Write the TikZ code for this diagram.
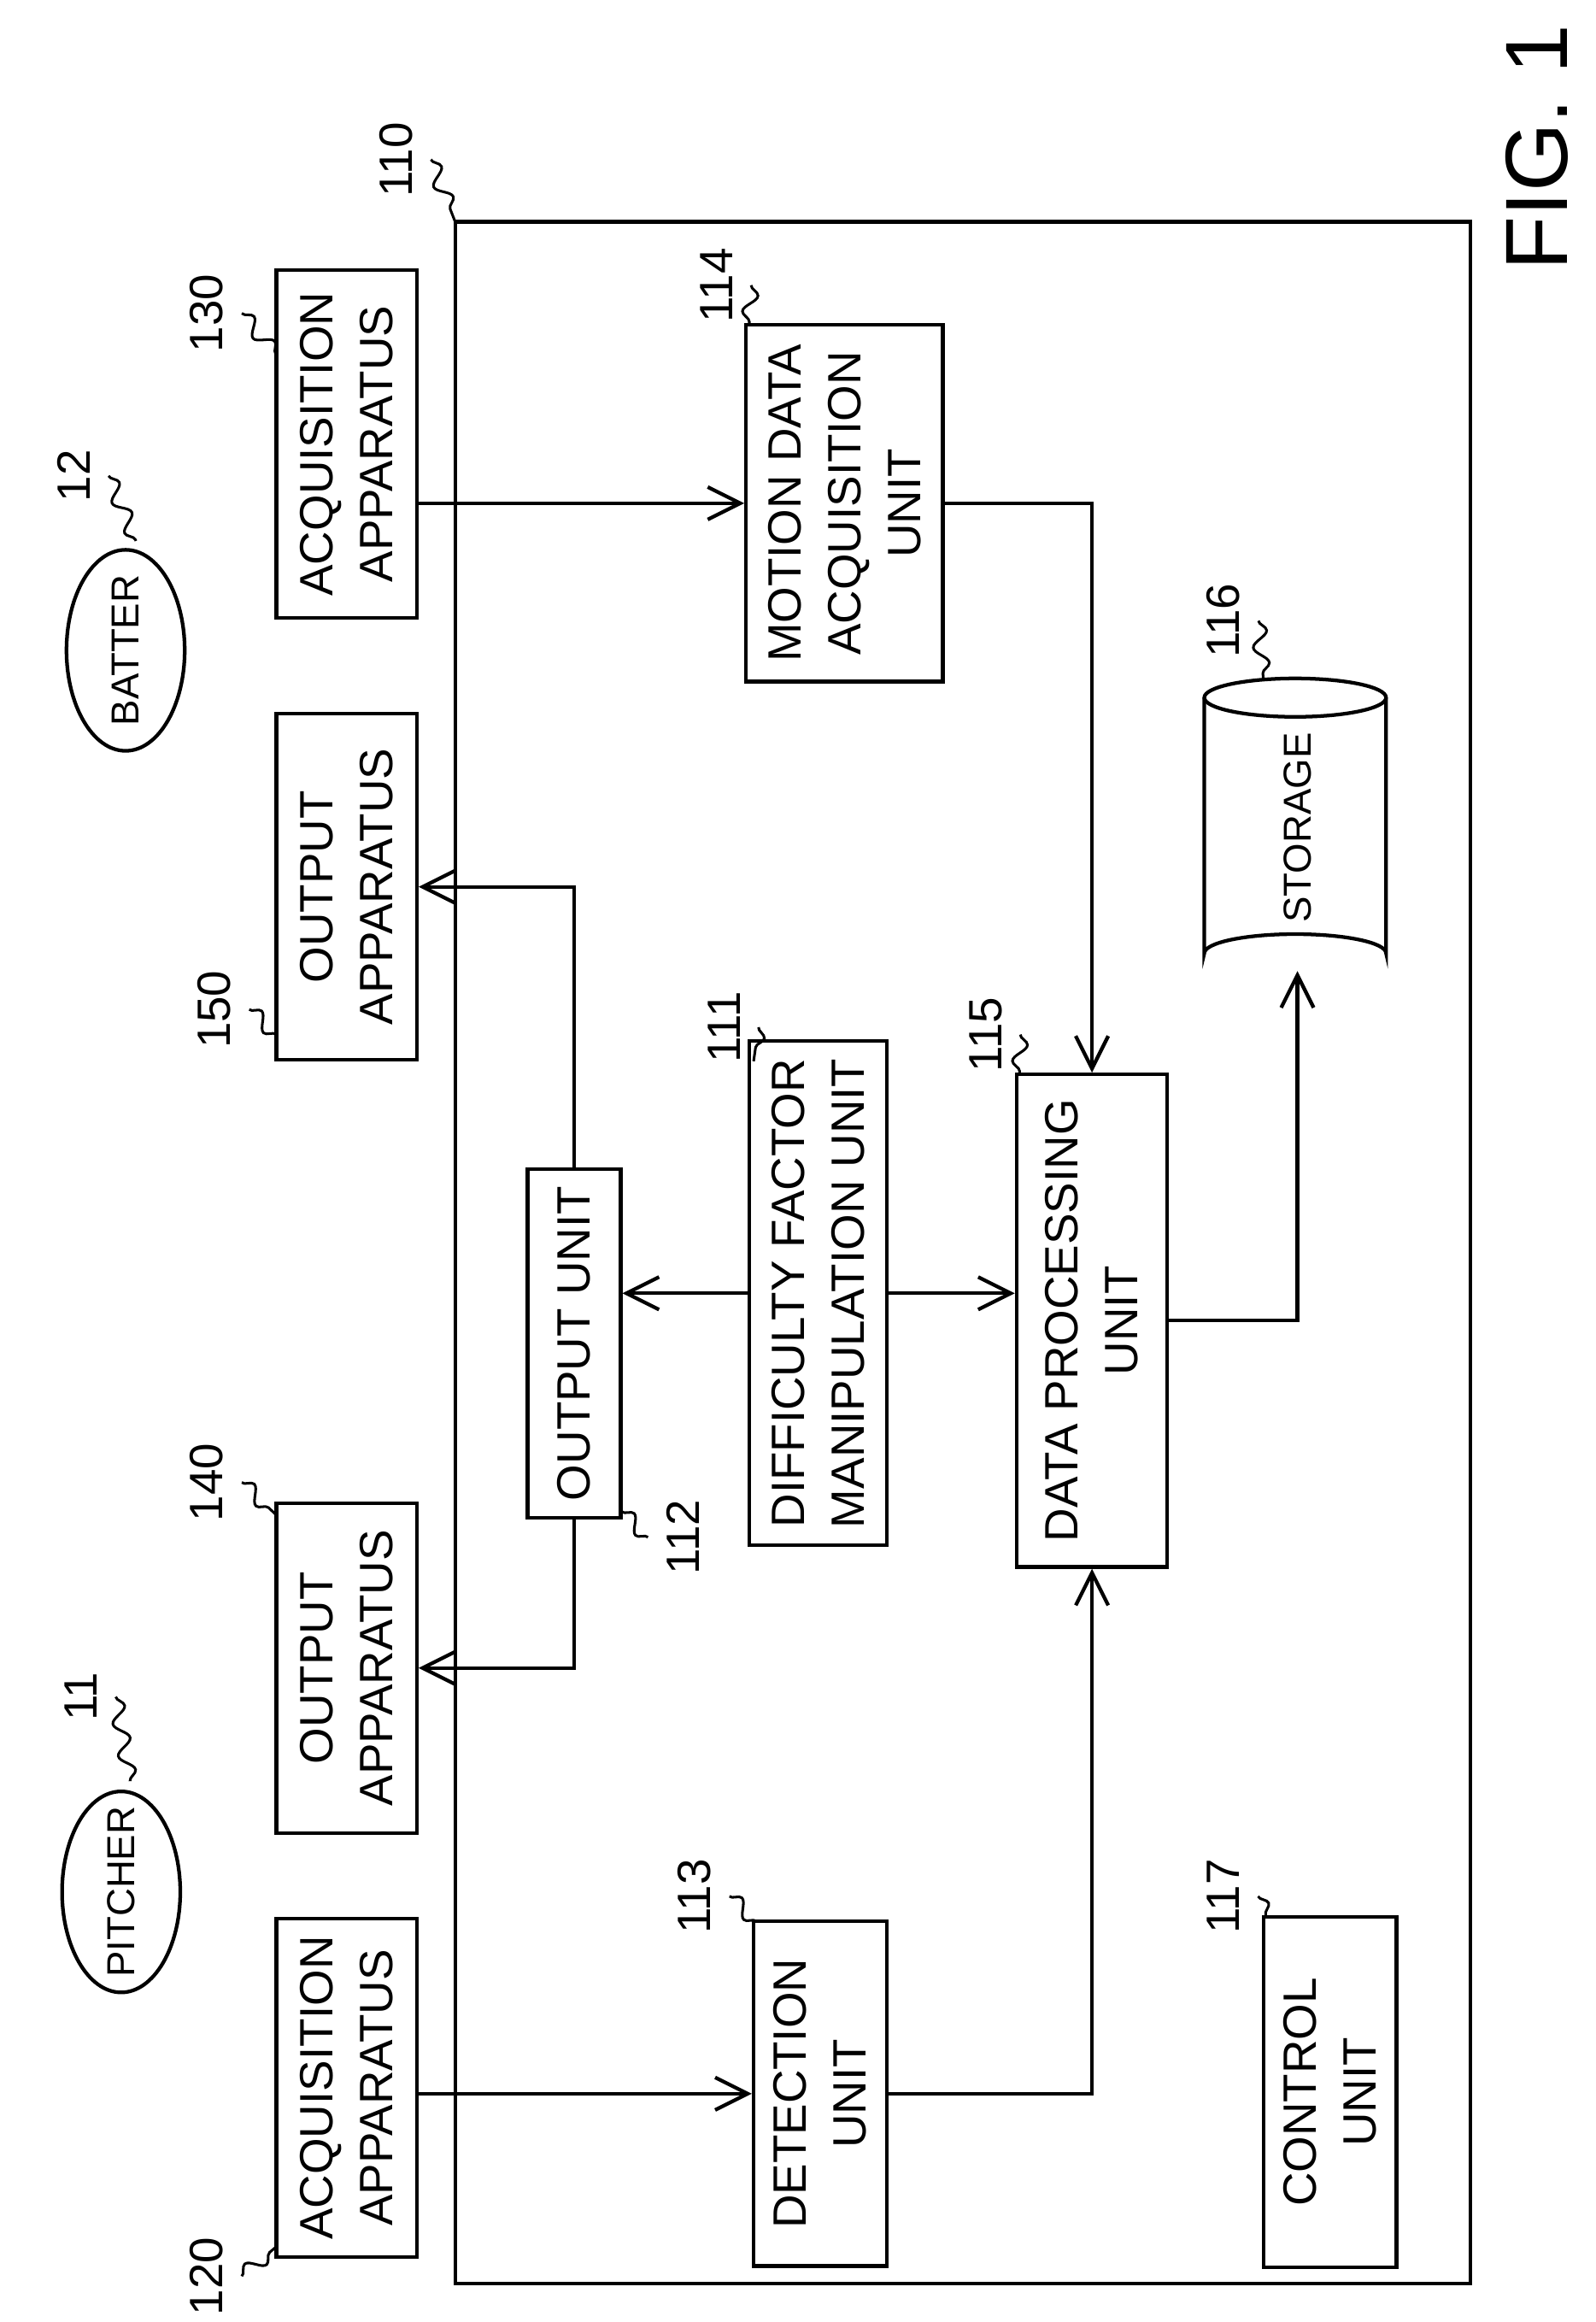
\documentclass[tikz,border=0pt]{standalone}
\usepackage{fontspec}
\setmainfont{Liberation Sans}
\usetikzlibrary{arrows.meta,decorations.pathmorphing}
\tikzset{
  blk/.style={draw, rectangle, rotate=90, align=center, line width=0.7pt, font=\fontsize{9}{11.5}\selectfont},
  arr/.style={-{Straight Barb[length=2.2mm,width=2.2mm]}, line width=0.7pt},
  num/.style={rotate=90, font=\fontsize{9}{11}\selectfont},
  wig/.style={decorate, decoration={snake, amplitude=0.5mm, segment length=2.2mm}, line width=0.5pt},
  sml/.style={rotate=90, font=\fontsize{7.5}{9}\selectfont}
}
\begin{document}
\begin{tikzpicture}[x=0.01cm, y=-0.01cm]
\useasboundingbox (0,0) rectangle (1080,1571);
% frame 110
\draw[line width=0.7pt] (308,150) rectangle (995,1545);
\node[num] (n110) at (268,108) {110};
\draw[wig] (n110.south) -- (308,150);
\node[rotate=90, font=\fontsize{17}{20}\selectfont] (fig) at (1040,100) {FIG. 1};
% players
\draw[line width=0.7pt] (82,1280) ellipse (40 and 68);
\node[sml] (pitcher) at (82,1280) {PITCHER};
\node[num] (n11) at (55,1148) {11};
\draw[wig] (n11.south) -- (88,1205);
\draw[line width=0.7pt] (85,440) ellipse (40 and 68);
\node[sml] (batter) at (85,440) {BATTER};
\node[num] (n12) at (50,322) {12};
\draw[wig] (n12.south) -- (92,366);
% apparatus
\node[blk, minimum width=2.29cm, minimum height=0.95cm] (acqP) at (234.5,1412.5) {ACQUISITION\\APPARATUS};
\node[num] (n120) at (140,1540) {120};
\draw[wig] (n120.south) -- (187,1520);
\node[blk, minimum width=2.35cm, minimum height=0.95cm] (acqB) at (234.5,300.5) {ACQUISITION\\APPARATUS};
\node[num] (n130) at (140,212) {130};
\draw[wig] (n130.south) -- (187,240);
\node[blk, minimum width=2.23cm, minimum height=0.95cm] (outP) at (234.5,1128.5) {OUTPUT\\APPARATUS};
\node[num] (n140) at (140,1003) {140};
\draw[wig] (n140.south) -- (187,1025);
\node[blk, minimum width=2.34cm, minimum height=0.95cm] (outB) at (234.5,600) {OUTPUT\\APPARATUS};
\node[num] (n150) at (145,683) {150};
\draw[wig] (n150.south) -- (187,700);
% units
\node[blk, minimum width=2.32cm, minimum height=0.63cm] (outU) at (388.5,909) {OUTPUT UNIT};
\node[num] (n112) at (462,1040) {112};
\draw[wig] (n112.north) -- (420,1022);
\node[blk, minimum width=3.14cm, minimum height=0.93cm] (diff) at (553.5,875) {DIFFICULTY FACTOR\\MANIPULATION UNIT};
\node[num] (n111) at (490,695) {111};
\draw[wig] (n111.south) -- (510,718);
\node[blk, minimum width=2.41cm, minimum height=1.33cm] (motion) at (571.5,340.5) {MOTION DATA\\ACQUISITION\\UNIT};
\node[num] (n114) at (485,193) {114};
\draw[wig] (n114.south) -- (507,220);
\node[blk, minimum width=2.33cm, minimum height=0.9cm] (detect) at (555,1416.5) {DETECTION\\UNIT};
\node[num] (n113) at (470,1283) {113};
\draw[wig] (n113.south) -- (512,1300);
\node[blk, minimum width=3.33cm, minimum height=1.02cm] (proc) at (739,893.5) {DATA PROCESSING\\UNIT};
\node[num] (n115) at (667,700) {115};
\draw[wig] (n115.south) -- (690,727);
\node[blk, minimum width=2.37cm, minimum height=0.9cm] (control) at (900,1415.5) {CONTROL\\UNIT};
\node[num] (n117) at (828,1283) {117};
\draw[wig] (n117.south) -- (857,1297);
% storage
\draw[line width=0.7pt] (815,472) -- (815,645) arc[start angle=180, end angle=360, x radius=61.5, y radius=13] -- (938,472);
\draw[line width=0.7pt] (876.5,472) ellipse (61.5 and 13);
\node[sml] (storage) at (878,560) {STORAGE};
\coordinate (storB) at (878,657);
\node[num] (n116) at (828,420) {116};
\draw[wig] (n116.south) -- (855,460);
% connections
\draw[arr] (motion.north -| acqB.south) -- (motion.north);
\draw[arr] (detect.north -| acqP.south) -- (detect.north);
\draw[arr] (motion.south) -| (proc.east);
\draw[arr] (detect.south) -| (proc.west);
\draw[arr] (diff.north) -- (outU.south |- diff.north);
\draw[arr] (diff.south) -- (proc.north |- diff.south);
\draw[arr] (proc.south) -| (storB);
\draw[arr] (outU.east) |- (outB.south);
\draw[arr] (outU.west) |- (outP.south);
\end{tikzpicture}
\end{document}
